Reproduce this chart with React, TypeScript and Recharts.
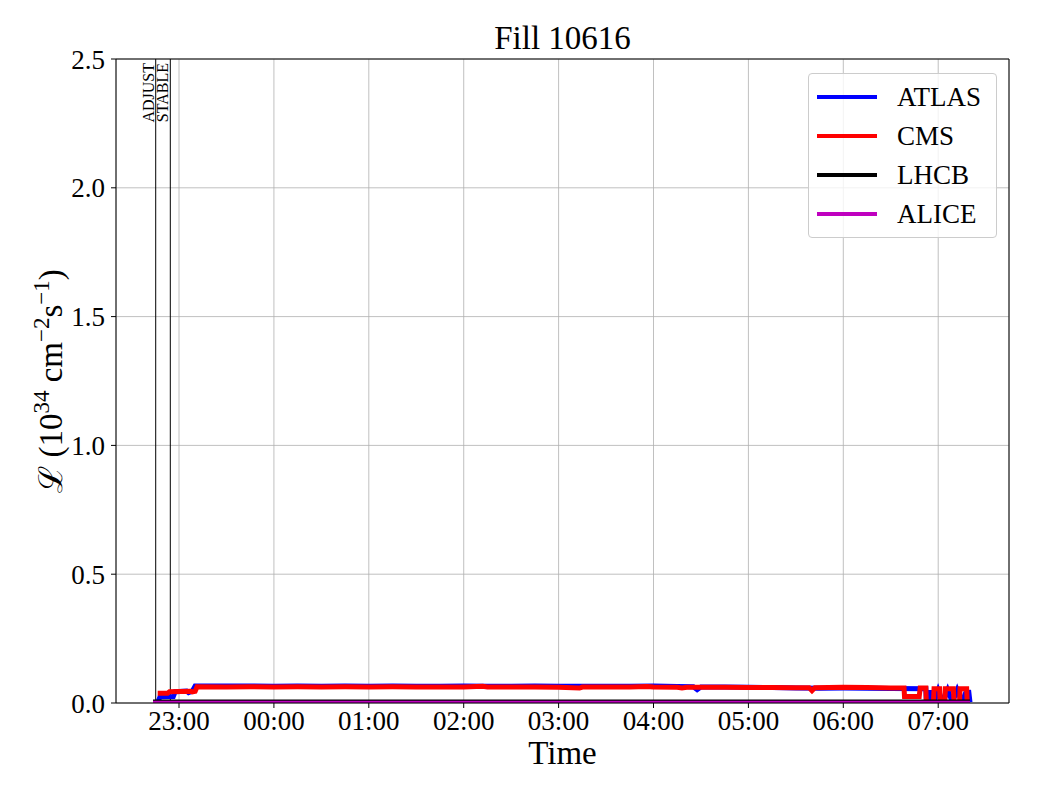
import React from "react";
import { LineChart, Line, XAxis, YAxis, CartesianGrid, ReferenceLine } from "recharts";

// time is in hours relative to midnight (23:00 = -1)
const xTicks = [-1, 0, 1, 2, 3, 4, 5, 6, 7];
const yTicks = [0, 0.5, 1.0, 1.5, 2.0, 2.5];
const xDomain = [-1.664, 7.746];

const modes = ["ADJUST", "STABLE"];
const modeTimes = [-1.2455, -1.0917];

const atlasT = [
  -1.22, -1.2, -1.06, -1.04, -0.92, -0.9, -0.86, -0.83, -0.5, -0.25, 0, 0.25, 0.5, 0.75, 1.0,
  1.25, 1.5, 1.75, 2.0, 2.25, 2.5, 2.75, 3.0, 3.25, 3.5, 3.75, 4.0, 4.25, 4.42, 4.46, 4.5, 4.75,
  5.0, 5.25, 5.5, 5.75, 6.0, 6.25, 6.5, 6.87, 6.875, 6.885, 6.895, 6.905, 6.915, 6.925, 6.935,
  6.945, 6.955, 7.0, 7.05, 7.1, 7.15, 7.2, 7.25, 7.3, 7.31, 7.32, 7.335,
];
const atlasL = [
  0.005, 0.024, 0.025, 0.044, 0.046, 0.04, 0.046, 0.066, 0.066, 0.066, 0.065, 0.066, 0.065, 0.066,
  0.065, 0.066, 0.065, 0.065, 0.066, 0.065, 0.065, 0.066, 0.065, 0.065, 0.065, 0.065, 0.066,
  0.064, 0.063, 0.052, 0.062, 0.062, 0.061, 0.06, 0.058, 0.057, 0.058, 0.057, 0.056, 0.055,
  0.003, 0.05, 0.003, 0.05, 0.003, 0.05, 0.003, 0.05, 0.003, 0.05, 0.003, 0.05, 0.003, 0.05,
  0.003, 0.05, 0.003, 0.05, 0.003,
];

const cmsT = [
  -1.225, -1.12, -1.1, -0.88, -0.86, -0.83, -0.81, -0.5, -0.25, 0, 0.25, 0.5, 0.75, 1.0, 1.25,
  1.5, 1.75, 2.0, 2.2, 2.25, 2.5, 2.75, 3.0, 3.22, 3.25, 3.5, 3.75, 3.93, 4.0, 4.25, 4.3, 4.35,
  4.75, 5.0, 5.25, 5.5, 5.64, 5.67, 5.7, 6.0, 6.25, 6.5, 6.64, 6.645, 6.8, 6.81, 6.87, 6.875,
  6.95, 6.956, 7.015, 7.02, 7.07, 7.075, 7.16, 7.167, 7.225, 7.23, 7.3, 7.305,
];
const cmsL = [
  0.038, 0.038, 0.044, 0.046, 0.043, 0.045, 0.063, 0.062, 0.063, 0.062, 0.063, 0.062, 0.063,
  0.062, 0.063, 0.062, 0.062, 0.062, 0.065, 0.062, 0.062, 0.062, 0.061, 0.058, 0.062, 0.062,
  0.062, 0.064, 0.062, 0.061, 0.058, 0.061, 0.061, 0.06, 0.06, 0.059, 0.059, 0.048, 0.059, 0.061,
  0.06, 0.058, 0.058, 0.025, 0.025, 0.058, 0.058, 0.003, 0.003, 0.055, 0.055, 0.003, 0.003,
  0.055, 0.055, 0.003, 0.003, 0.055, 0.055, 0.003,
];

const lhcbT = [-1.274, 0, 2, 4, 6, 7.335];
const lhcbL = [0.009, 0.009, 0.009, 0.009, 0.009, 0.009];

const aliceT = [-1.274, 0, 2, 4, 6, 7.335];
const aliceL = [0.004, 0.004, 0.004, 0.004, 0.004, 0.004];

const seriesNames = ["ATLAS", "CMS", "LHCB", "ALICE"];
const seriesColors = ["#0000ff", "#ff0000", "#000000", "#bf00bf"];

const zip = (t: number[], v: number[]) => t.map((x, i) => ({ t: x, v: v[i] }));

const series = [
  { name: "ATLAS", data: zip(atlasT, atlasL), width: 5 },
  { name: "CMS", data: zip(cmsT, cmsL), width: 5 },
  { name: "LHCB", data: zip(lhcbT, lhcbL), width: 2.5 },
  { name: "ALICE", data: zip(aliceT, aliceL), width: 2.5 },
];

const FONT = "'Liberation Serif', 'DejaVu Serif', serif";

const hourLabel = (h: number) => {
  const hh = ((h % 24) + 24) % 24;
  return String(hh).padStart(2, "0") + ":00";
};

const YLabel = () => (
  <text
    x={62}
    y={381}
    transform="rotate(-90, 62, 381)"
    textAnchor="middle"
    fontFamily={FONT}
    fontSize={33}
    fill="#000"
  >
    <tspan>ℒ (10</tspan>
    <tspan dy={-13} fontSize={23}>34</tspan>
    <tspan dy={13}> cm</tspan>
    <tspan dy={-13} fontSize={23}>−2</tspan>
    <tspan dy={13}>s</tspan>
    <tspan dy={-13} fontSize={23}>−1</tspan>
    <tspan dy={13}>)</tspan>
  </text>
);

const modeLabel = (name: string) => (props: any) => {
  const x = props.viewBox?.x ?? 0;
  const y = props.viewBox?.y ?? 0;
  return (
    <text
      x={x - 2}
      y={y + 4}
      transform={`rotate(-90, ${x - 2}, ${y + 4})`}
      textAnchor="end"
      fontFamily={FONT}
      fontSize={16}
      fill="#000"
    >
      {name}
    </text>
  );
};

export default function App() {
  return (
    <div style={{ position: "absolute", left: 0, top: 0, width: 1040, height: 800, background: "#fff" }}>
      <div
        style={{
          position: "absolute",
          left: 116,
          width: 893,
          top: 18,
          textAlign: "center",
          fontFamily: FONT,
          fontSize: 33,
          lineHeight: "40px",
        }}
      >
        Fill 10616
      </div>
      <LineChart
        width={1040}
        height={800}
        margin={{ top: 59, right: 31, left: 0, bottom: 0 }}
      >
        <CartesianGrid stroke="#b0b0b0" strokeWidth={0.8} />
        <XAxis
          dataKey="t"
          type="number"
          domain={xDomain}
          ticks={xTicks}
          allowDataOverflow
          tickFormatter={hourLabel}
          height={97}
          stroke="#000"
          tickSize={5}
          tickMargin={3}
          tick={{ fill: "#000", fontSize: 27, fontFamily: FONT }}
          label={{ value: "Time", position: "insideBottom", offset: 36, fill: "#000", fontSize: 33, fontFamily: FONT }}
        />
        <YAxis
          dataKey="v"
          type="number"
          domain={[0, 2.5]}
          ticks={yTicks}
          allowDataOverflow
          tickFormatter={(v: number) => v.toFixed(1)}
          width={116}
          stroke="#000"
          tickSize={5}
          tickMargin={6}
          tick={{ fill: "#000", fontSize: 27, fontFamily: FONT }}
          label={<YLabel />}
        />
        <ReferenceLine y={2.5} stroke="#000" strokeWidth={1} />
        <ReferenceLine x={xDomain[1]} stroke="#000" strokeWidth={1} />
        {modes.map((m, i) => (
          <ReferenceLine key={m} x={modeTimes[i]} stroke="#000" strokeWidth={1} label={modeLabel(m)} />
        ))}
        {series.map((s, i) => (
          <Line
            key={s.name}
            data={s.data}
            dataKey="v"
            name={s.name}
            type="linear"
            stroke={seriesColors[i]}
            strokeWidth={s.width}
            dot={false}
            isAnimationActive={false}
          />
        ))}
      </LineChart>
      <div
        style={{
          position: "absolute",
          left: 808,
          top: 73,
          width: 189,
          height: 165,
          boxSizing: "border-box",
          border: "1px solid #cccccc",
          borderRadius: 4,
          background: "rgba(255,255,255,0.8)",
          fontFamily: FONT,
          fontSize: 27,
        }}
      >
        {seriesNames.map((n, i) => (
          <div
            key={n}
            style={{ position: "absolute", left: 0, top: 6 + i * 39, height: 34, display: "flex", alignItems: "center" }}
          >
            <div style={{ marginLeft: 8, width: 60, height: 4, background: seriesColors[i] }} />
            <div style={{ marginLeft: 20, lineHeight: "34px" }}>{n}</div>
          </div>
        ))}
      </div>
    </div>
  );
}
